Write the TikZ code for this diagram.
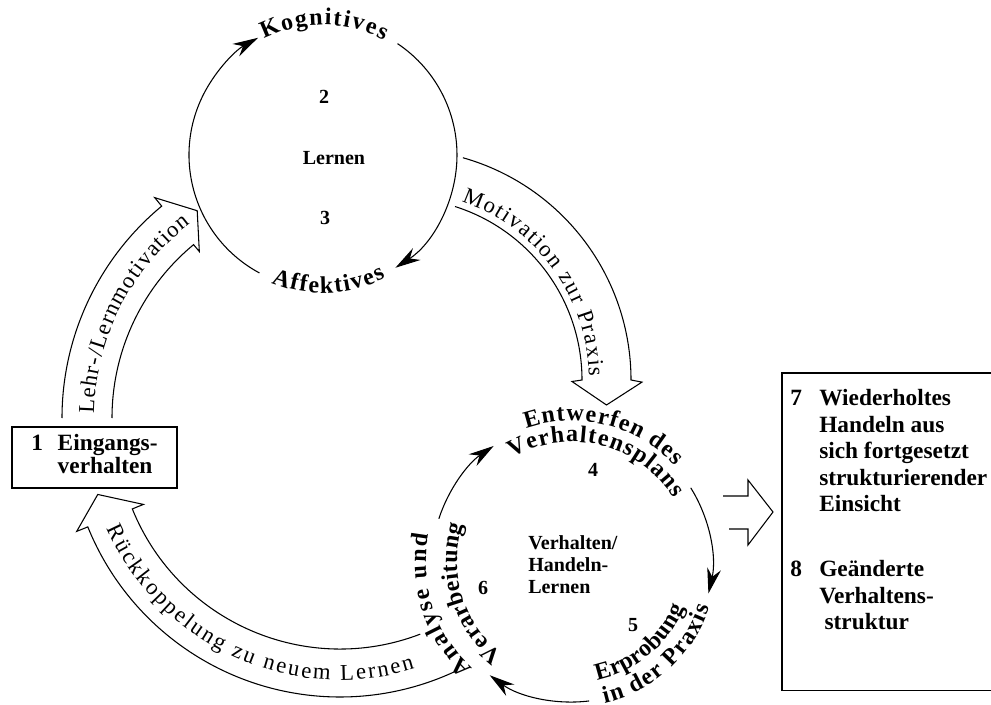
\documentclass[tikz,border=0pt]{standalone}
\usepackage{fontspec}
\setmainfont{Liberation Serif}
\usetikzlibrary{decorations.text,arrows.meta,calc}
\newcommand\boxfont{\fontsize{17.5}{19.9}\selectfont\bfseries}
\newcommand\boxonefont{\fontsize{17.5}{17.3}\selectfont\bfseries}
\newcommand\curvbf{\fontsize{18}{20}\selectfont\bfseries}
\newcommand\innerfont{\fontsize{15}{16.5}\selectfont\bfseries}
\newcommand\arrowfont{\fontsize{17}{19}\selectfont}
\begin{document}
\begin{tikzpicture}[x=0.75pt,y=0.75pt,
  circarrow/.style={line width=0.8pt,-{Stealth[length=19pt,width=10.5pt]}},
  hollow/.style={line width=0.8pt,line join=miter},
  ctext/.style={decorate,decoration={text along path,text={#1},text align={fit to path}}},
  boxnode/.style={draw,line width=0.8pt,inner sep=0pt}]
\useasboundingbox (0,0) rectangle (991,704);
\clip (0,0) rectangle (991,704);
\coordinate (C1) at (323,549);
\coordinate (C2) at (572,142);
\coordinate (L) at (337,286);
\coordinate (M) at (400,324);
\coordinate (R) at (340,279);

% top circle
\draw[circarrow] ($(C1)+(241.7:134)$) arc[start angle=241.7,end angle=119,radius=134];
\draw[circarrow] ($(C1)+(56.2:134)$) arc[start angle=56.2,end angle=-57.3,radius=134];
\path[ctext={|\curvbf|Kognitives}] ($(C1)+(117:130)$) arc[start angle=117,end angle=62,radius=130];
\path[ctext={|\curvbf|Affektives}] ($(C1)+(248:138)$) arc[start angle=248,end angle=297,radius=138];
\node[font=\innerfont] (n2) at (324,607) {2};
\node[font=\innerfont] (lern) at (334,546) {Lernen};
\node[font=\innerfont] (n3) at (325,486) {3};

% bottom circle
\draw[circarrow] ($(C2)+(32:140)$) arc[start angle=32,end angle=-13,radius=140];
\draw[circarrow] ($(C2)+(-83:140)$) arc[start angle=-83,end angle=-126,radius=140];
\draw[circarrow] ($(C2)+(162:140)$) arc[start angle=162,end angle=124,radius=140];
\path[ctext={|\curvbf|Entwerfen des}] ($(C2)+(109:141)$) arc[start angle=109,end angle=43,radius=141];
\path[ctext={|\curvbf|Verhaltensplans}] ($(C2)+(120:120)$) arc[start angle=120,end angle=32,radius=120];
\path[ctext={|\curvbf|Erprobung}] ($(C2)+(-78:121)$) arc[start angle=-78,end angle=-22,radius=121];
\path[ctext={|\curvbf|in der Praxis}] ($(C2)+(-77:145)$) arc[start angle=-77,end angle=-18,radius=145];
\path[ctext={|\curvbf|Analyse und}] ($(C2)+(227:146)$) arc[start angle=227,end angle=169,radius=146];
\path[ctext={|\curvbf|Verarbeitung}] ($(C2)+(233:115)$) arc[start angle=233,end angle=161,radius=115];
\node[font=\innerfont] (n4) at (593,234) {4};
\node[font=\innerfont] (n5) at (633,79) {5};
\node[font=\innerfont] (n6) at (483,116) {6};
\node[font=\innerfont,align=left,anchor=west,inner sep=0pt] (vh) at (528,139) {Verhalten/\\Handeln-\\Lernen};

% box 1
\node[boxnode,minimum width=123.75pt,minimum height=45.75pt] (box1) at (94.5,246.5)
  {\boxonefont\begin{tabular}{@{}l@{\hspace{11pt}}l@{}}1&Eingangs-\\&verhalten\end{tabular}};

% box 7/8 (its right side runs out of the picture)
\node[inner sep=0pt,minimum width=200pt,minimum height=237.75pt,anchor=north west] (box7) at (782,331) {};
\draw[line width=0.8pt] (box7.north east) -- (box7.north west) -- (box7.south west) -- (box7.south east);
\node[anchor=west,inner sep=0pt] (t7) at (790,250.5)
  {\boxfont\begin{tabular}{@{}l@{\hspace{13pt}}l@{}}7&Wiederholtes\\&Handeln aus\\&sich fortgesetzt\\&strukturierender\\&Einsicht\end{tabular}};
\node[anchor=west,inner sep=0pt] (t8) at (790,106)
  {\boxfont\begin{tabular}{@{}l@{\hspace{13pt}}l@{}}8&Geänderte\\&Verhaltens-\\&\hspace{4pt}struktur\end{tabular}};

% hollow arrow: Lehr-/Lernmotivation
\draw[hollow] ($(L)+(180:225)$) arc[start angle=180,end angle=129.6,radius=225]
  -- ($(L)+(129.6:216)$) -- ($(L)+(124:250)$) -- ($(L)+(129.6:286)$)
  -- ($(L)+(129.6:275)$) arc[start angle=129.6,end angle=180,radius=275];
\path[ctext={|\arrowfont|Lehr-/Lernmotivation}] ($(L)+(179:243)$) arc[start angle=179,end angle=127,radius=243];

% hollow arrow: Motivation zur Praxis
\draw[hollow] ($(M)+(72.4:182)$) arc[start angle=72.4,end angle=0,radius=182]
  -- ($(M)+(-0.5:172)$) -- ($(M)+(-6.9:208)$) -- ($(M)+(-0.5:242)$)
  -- ($(M)+(0:231)$) arc[start angle=0,end angle=74.2,radius=231];
\path[ctext={|\arrowfont|Motivation zur Praxis}] ($(M)+(71:189)$) arc[start angle=71,end angle=1,radius=189];

% hollow arrow: Rueckkoppelung
\draw[hollow] ($(R)+(-69:224)$) arc[start angle=-69,end angle=-158,radius=224]
  -- ($(R)+(-158:212)$) -- ($(R)+(-164:252)$) -- ($(R)+(-158:284)$)
  -- ($(R)+(-158:272)$) arc[start angle=-158,end angle=-65,radius=272];
\path[ctext={|\arrowfont|Rückkoppelung zu neuem Lernen}] ($(R)+(-156:255)$) arc[start angle=-156,end angle=-73,radius=255];

% straight hollow arrow to box 7
\draw[hollow] (723,208) -- (748,208) -- (748,224) -- (773,192) -- (748,159) -- (748,175) -- (729,175);
\end{tikzpicture}
\end{document}
